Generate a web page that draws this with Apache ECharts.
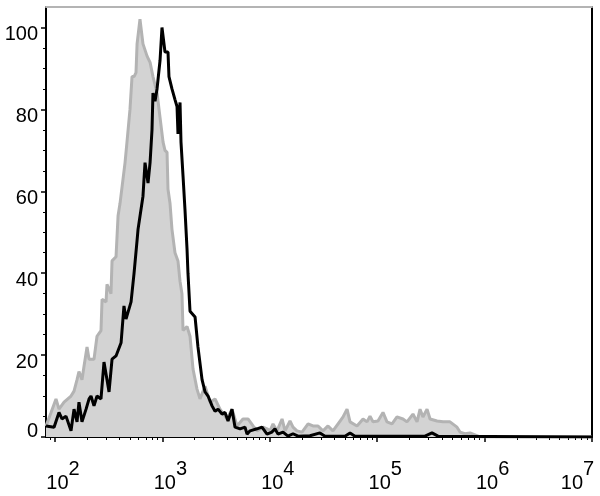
<!DOCTYPE html>
<html>
<head>
<meta charset="utf-8">
<script src="https://cdn.jsdelivr.net/npm/echarts@6/dist/echarts.min.js"></script>
<style>html,body{margin:0;padding:0;background:#fff}#c{width:600px;height:496px}</style>
</head>
<body>
<div id="c"></div>
<script>
// x values are log10(fluorescence intensity)
var grayLog = [1.916,1.963,2.009,2.037,2.084,2.149,2.177,2.205,2.223,2.251,2.270,2.298,2.317,2.363,2.391,2.428,2.438,2.475,2.484,2.521,2.531,2.568,2.587,2.605,2.652,2.670,2.698,2.717,2.736,2.754,2.764,2.791,2.819,2.857,2.885,2.912,2.950,2.978,3.006,3.024,3.043,3.052,3.071,3.089,3.117,3.145,3.164,3.182,3.192,3.229,3.257,3.285,3.322,3.350,3.397,3.443,3.490,3.536,3.601,3.648,3.695,3.750,3.797,3.844,3.881,3.937,3.974,4.002,4.030,4.067,4.114,4.142,4.188,4.216,4.253,4.300,4.356,4.402,4.449,4.495,4.542,4.588,4.654,4.682,4.719,4.747,4.812,4.868,4.905,4.933,4.961,5.007,5.054,5.091,5.138,5.184,5.240,5.277,5.333,5.371,5.399,5.426,5.464,5.492,5.557,5.613,5.678,5.743,5.771,5.817,5.864,5.911,5.957,7.0];
var grayCount = [2.7,6,9.3,6.8,8.5,10,11.2,14,16,14,17.3,22,19,19,24.6,26,33.6,33,37.3,35,43,44,54,57,67,72,80,88,88,89,96,102,96,93,91.5,88,84,78,72,70,69.5,60.5,57,50.7,45,43,38,35,26,27,24.6,16.6,11.7,9.3,12.4,8.5,9.3,6.8,4.4,6.8,2.7,4.4,4.4,2.7,1.5,2.4,2,1.5,3.2,1.5,4.4,1.5,3.9,2.4,1.5,1.2,3.2,2.7,2.7,1.5,2.7,1.5,3.9,4.9,6.8,3.7,2.7,4.4,3.7,5.1,3.7,3.9,6,3.7,3.2,4.9,4.4,3.7,5.6,3.7,6.8,4.9,6.8,4.4,3.9,3.7,3.7,2.4,1.2,0.8,1,0.5,0,0];

var blackLog = [1.916,1.991,2.037,2.065,2.102,2.149,2.177,2.205,2.223,2.251,2.289,2.317,2.335,2.363,2.391,2.428,2.456,2.484,2.503,2.531,2.568,2.615,2.642,2.661,2.708,2.736,2.764,2.773,2.819,2.838,2.866,2.885,2.903,2.912,2.931,2.950,2.978,2.996,3.024,3.052,3.061,3.089,3.117,3.136,3.145,3.164,3.173,3.192,3.210,3.229,3.238,3.257,3.304,3.331,3.369,3.397,3.425,3.462,3.490,3.518,3.555,3.583,3.611,3.648,3.676,3.723,3.769,3.788,3.816,3.881,3.927,3.974,4.020,4.048,4.076,4.123,4.169,4.216,4.263,4.374,4.467,4.514,4.700,4.747,4.793,5.445,5.510,5.566,7.0];
var blackCount = [2.7,2.4,6,4.4,5.1,1.5,6.8,3.7,8.5,3.7,6.8,9.3,10,7.6,10,9.3,18.3,14,11,19,19.8,23,32,28.8,33,40,48,50.7,58.8,67,62,67,75,84,82,85,92,100,94,94,88,85,82.4,80.7,74,81.7,72,63.7,55.6,46,40,30.7,29.3,22,14,11,10,7.6,6.3,6.8,5.6,6,3.9,6.8,2.4,2,2.4,0.7,1.5,2,2.4,0.7,1.2,2,0.7,1.2,0.2,0.8,0.2,0.3,1,0.2,0.2,1,0.2,0.2,1,0.2,0];

var xMajor = [2,3,4,5,6,7];
var yMajor = [0,20,40,60,80,100];
var yMinor = [5,10,15,25,30,35,45,50,55,65,70,75,85,90,95];

var X_MIN = 1.916, X_MAX = 7, Y_MIN = 0, Y_MAX = 105;

var xMinor = [];
for (var d = 1; d <= 6; d++) {
  for (var k = 2; k <= 9; k++) {
    var v = d + Math.log10(k);
    if (v > X_MIN && v < X_MAX) xMinor.push(v);
  }
}

function zip(a, b) { return a.map(function (x, i) { return [x, b[i]]; }); }

var chart = echarts.init(document.getElementById('c'), null, {renderer: 'canvas'});
var FONT = 'Liberation Sans, Arial, sans-serif';

chart.setOption({
  animation: false,
  backgroundColor: '#fff',
  grid: {left: 46, right: 8, top: 7, bottom: 59, containLabel: false, outerBoundsMode: 'none'},
  xAxis: [
    {
      type: 'value', min: X_MIN, max: X_MAX, position: 'bottom',
      axisLine: {show: true, onZero: false, lineStyle: {color: '#000', width: 2}},
      axisTick: {show: true, customValues: xMajor, length: 5, lineStyle: {color: '#000', width: 1.5}},
      splitLine: {show: false},
      axisLabel: {
        show: true, customValues: xMajor, margin: 22, fontFamily: FONT,
        formatter: function (val) {
          var n = Math.round(val);
          if (n === 7) return '{b|10}{e|' + n + '}{t|}';
          return '{s|}{b|10}{e|' + n + '}';
        },
        rich: {
          s: {width: 16, height: 34},
          t: {width: 29, height: 34},
          b: {fontSize: 20, fontFamily: FONT, color: '#000', lineHeight: 20, verticalAlign: 'bottom'},
          e: {fontSize: 20, fontFamily: FONT, color: '#000', lineHeight: 20, verticalAlign: 'top'}
        }
      }
    },
    {
      type: 'value', min: X_MIN, max: X_MAX, position: 'bottom',
      axisLine: {show: false},
      axisTick: {show: true, customValues: xMinor, length: 3, lineStyle: {color: '#000', width: 1}},
      axisLabel: {show: false},
      splitLine: {show: false}
    },
    {
      type: 'value', min: X_MIN, max: X_MAX, position: 'top',
      axisLine: {show: true, onZero: false, lineStyle: {color: '#b4b4b4', width: 2}},
      axisTick: {show: false}, axisLabel: {show: false}, splitLine: {show: false}
    }
  ],
  yAxis: [
    {
      type: 'value', min: Y_MIN, max: Y_MAX, position: 'left',
      axisLine: {show: true, onZero: false, lineStyle: {color: '#000', width: 2}},
      axisTick: {show: true, customValues: yMajor, length: 5, lineStyle: {color: '#000', width: 1.5}},
      splitLine: {show: false},
      axisLabel: {
        show: true, customValues: yMajor, margin: 8, fontFamily: FONT, align: 'right',
        verticalAlign: 'middle',
        formatter: function (val) {
          return val === 0 ? '{z|0}' : '{t|' + val + '}';
        },
        rich: {
          t: {fontSize: 20, fontFamily: FONT, color: '#000', padding: [14, 0, 0, 0]},
          z: {fontSize: 20, fontFamily: FONT, color: '#000', padding: [0, 0, 12, 0]}
        }
      }
    },
    {
      type: 'value', min: Y_MIN, max: Y_MAX, position: 'left',
      axisLine: {show: false},
      axisTick: {show: true, customValues: yMinor, length: 3, lineStyle: {color: '#000', width: 1}},
      axisLabel: {show: false}, splitLine: {show: false}
    },
    {
      type: 'value', min: Y_MIN, max: Y_MAX, position: 'right',
      axisLine: {show: true, onZero: false, lineStyle: {color: '#000', width: 2}},
      axisTick: {show: false}, axisLabel: {show: false}, splitLine: {show: false}
    }
  ],
  series: [
    {
      name: 'control', type: 'line', xAxisIndex: 0, yAxisIndex: 0,
      data: zip(grayLog, grayCount), showSymbol: false, symbol: 'none',
      lineStyle: {color: '#b3b3b3', width: 3}, areaStyle: {color: '#d3d3d3', opacity: 1},
      z: 2
    },
    {
      name: 'stained', type: 'line', xAxisIndex: 0, yAxisIndex: 0,
      data: zip(blackLog, blackCount), showSymbol: false, symbol: 'none',
      lineStyle: {color: '#000', width: 3},
      z: 3
    }
  ]
});
</script>
</body>
</html>
